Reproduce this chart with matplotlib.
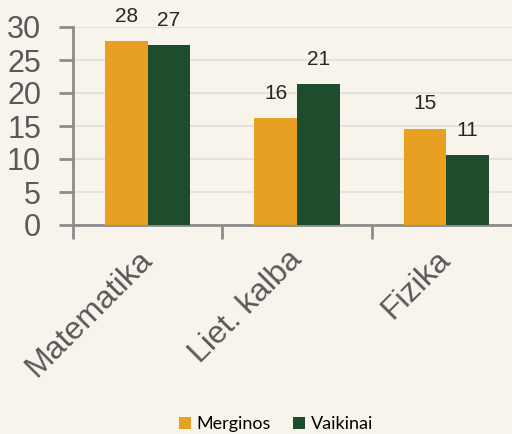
import numpy as np
import matplotlib
matplotlib.use("Agg")
import matplotlib.pyplot as plt
from matplotlib.ticker import FixedLocator

# ================= DATA =================
subjects = ["Matematika", "Liet. kalba", "Fizika"]
series_names = ["Merginos", "Vaikinai"]
merginos = [27.9, 16.2, 14.6]
vaikinai = [27.2, 21.3, 10.6]

# ================= STYLE =================
BG = "#F8F4EC"
ORANGE = "#E8A022"
GREEN = "#1D4D2C"
AXIS = "#8C8C8C"
TEXT = "#595959"

plt.rcParams['font.family'] = ['Liberation Sans', 'DejaVu Sans']

fig = plt.figure(figsize=(5.12, 4.34), dpi=100, facecolor=BG)
ax = fig.add_axes([73 / 512, 1 - 225 / 434, 448 / 512, 198 / 434], facecolor=BG)

x = np.arange(len(subjects))
w = 0.285
b1 = ax.bar(x - w / 2, merginos, w, color=ORANGE, label=series_names[0], zorder=3)
b2 = ax.bar(x + w / 2, vaikinai, w, color=GREEN, label=series_names[1], zorder=3)

ax.bar_label(b1, labels=[f"{v:.0f}" for v in merginos], padding=11,
             fontsize=15, color="#262626")
ax.bar_label(b2, labels=[f"{v:.0f}" for v in vaikinai], padding=11,
             fontsize=15, color="#262626")

ax.set_xlim(-0.5, len(subjects) - 0.5)
ax.set_ylim(0, 30)
ax.set_yticks(range(0, 31, 5))
ax.yaxis.grid(True, color="#E2DFDA", linewidth=1.2, zorder=0)

for s in ["top", "right"]:
    ax.spines[s].set_visible(False)
for s in ["left", "bottom"]:
    ax.spines[s].set_color(AXIS)
    ax.spines[s].set_linewidth(2)

ax.tick_params(axis="y", length=10, width=2, color=AXIS, pad=13,
               labelsize=22, labelcolor=TEXT)

# category labels, boundary ticks
ax.set_xticks(x)
ax.set_xticklabels(subjects, rotation=45, ha="right", va="center",
                   rotation_mode="anchor", fontsize=23, color=TEXT)
ax.tick_params(axis="x", which="major", length=0, pad=22)
ax.xaxis.set_minor_locator(FixedLocator(np.arange(-0.5, len(subjects), 1.0)))
ax.tick_params(axis="x", which="minor", length=10, width=2, color=AXIS)

fig.legend(loc="center", bbox_to_anchor=(276 / 512, 1 - 424 / 434), ncol=2,
           frameon=False, prop={"family": "Lato", "size": 13},
           handlelength=0.66, handleheight=0.66,
           handletextpad=0.33, columnspacing=1.2)

fig.savefig("out.png", dpi=100, facecolor=BG)
